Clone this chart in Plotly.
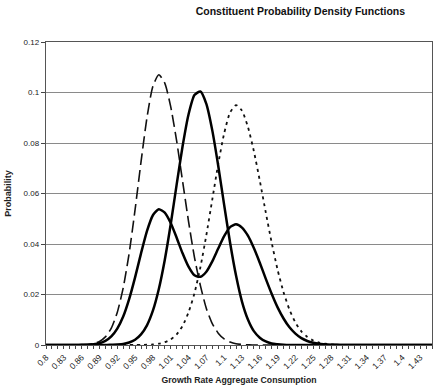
import plotly.graph_objects as go

# Category values on the x axis (growth rate), 0.80 .. 1.45 step 0.01
growth = [round(0.80 + 0.01 * i, 2) for i in range(66)]

# Labels shown every third category
x_labels = ["0.8", "0.83", "0.86", "0.89", "0.92", "0.95", "0.98", "1.01", "1.04", "1.07",
            "1.1", "1.13", "1.16", "1.19", "1.22", "1.25", "1.28", "1.31", "1.34", "1.37",
            "1.4", "1.43"]

# Long-dash density (peak near 0.99)
dashed = [0, 0, 0, 0, 0, 0, 0.0001, 0.0002, 0.0006, 0.0014,
          0.0032, 0.0067, 0.0129, 0.0226, 0.0363, 0.0536, 0.0725, 0.0900, 0.1025, 0.1070,
          0.1037, 0.0944, 0.0808, 0.0649, 0.0490, 0.0347, 0.0235, 0.0145, 0.0085, 0.0047,
          0.0024, 0.0012, 0.0005, 0.0002, 0.0001, 0, 0, 0, 0, 0,
          0, 0, 0, 0, 0, 0, 0, 0, 0, 0,
          0, 0, 0, 0, 0, 0, 0, 0, 0, 0,
          0, 0, 0, 0, 0, 0]

# Dotted density (peak near 1.12)
dotted = [0, 0, 0, 0, 0, 0, 0, 0, 0, 0,
          0, 0, 0, 0, 0, 0, 0, 0.0001, 0.0002, 0.0005,
          0.0011, 0.0022, 0.0042, 0.0076, 0.0129, 0.0205, 0.0308, 0.0435, 0.0576, 0.0717,
          0.0838, 0.0921, 0.0950, 0.0928, 0.0864, 0.0768, 0.0651, 0.0526, 0.0406, 0.0298,
          0.0209, 0.0140, 0.0089, 0.0054, 0.0032, 0.0018, 0.0009, 0.0005, 0.0002, 0.0001,
          0, 0, 0, 0, 0, 0, 0, 0, 0, 0,
          0, 0, 0, 0, 0, 0]

# Solid unimodal density (peak near 1.06)
unimodal = [0, 0, 0, 0, 0, 0, 0, 0, 0, 0,
            0, 0.0001, 0.0002, 0.0004, 0.0010, 0.0021, 0.0042, 0.0078, 0.0136, 0.0222,
            0.0337, 0.0478, 0.0635, 0.0787, 0.0913, 0.0990, 0.1004, 0.0955, 0.0850, 0.0710,
            0.0555, 0.0405, 0.0275, 0.0172, 0.0101, 0.0055, 0.0029, 0.0014, 0.0006, 0.0003,
            0.0001, 0, 0, 0, 0, 0, 0, 0, 0, 0,
            0, 0, 0, 0, 0, 0, 0, 0, 0, 0,
            0, 0, 0, 0, 0, 0]

# Solid bimodal density
bimodal = [0, 0, 0, 0, 0, 0, 0.0001, 0.0001, 0.0003, 0.0007,
           0.0016, 0.0034, 0.0065, 0.0113, 0.0182, 0.0268, 0.0363, 0.0451, 0.0514, 0.0538,
           0.0524, 0.0483, 0.0425, 0.0363, 0.0310, 0.0276, 0.0270, 0.0290, 0.0331, 0.0382,
           0.0431, 0.0467, 0.0478, 0.0465, 0.0433, 0.0384, 0.0326, 0.0263, 0.0203, 0.0149,
           0.0105, 0.0070, 0.0045, 0.0027, 0.0016, 0.0009, 0.0005, 0.0003, 0.0001, 0.0001,
           0, 0, 0, 0, 0, 0, 0, 0, 0, 0,
           0, 0, 0, 0, 0, 0]

y_ticks = [0, 0.02, 0.04, 0.06, 0.08, 0.1, 0.12]
y_labels = ["0", "0.02", "0.04", "0.06", "0.08", "0.1", "0.12"]

FONT = "Arial, Liberation Sans, sans-serif"

fig = go.Figure()
fig.add_trace(go.Scatter(x=growth, y=dashed, mode="lines",
                         line=dict(color="#111", width=1.6, dash="12px,5px", shape="spline", smoothing=0.6)))
fig.add_trace(go.Scatter(x=growth, y=dotted, mode="lines",
                         line=dict(color="#111", width=1.8, dash="3px,4px", shape="spline", smoothing=0.6)))
fig.add_trace(go.Scatter(x=growth, y=unimodal, mode="lines",
                         line=dict(color="#000", width=2.5, shape="spline", smoothing=0.6)))
fig.add_trace(go.Scatter(x=growth, y=bimodal, mode="lines",
                         line=dict(color="#000", width=2.5, shape="spline", smoothing=0.6)))

label_map = {round(float(lab), 2): lab for lab in x_labels}
tickvals = growth
ticktext = [label_map.get(g, "") for g in growth]

fig.update_layout(
    width=440, height=392,
    margin=dict(l=42, r=7, t=42, b=47),
    paper_bgcolor="white", plot_bgcolor="white",
    showlegend=False,
    hovermode=False,
    font=dict(family=FONT, size=8, color="#222"),
    title=dict(text="<b>Constituent Probability Density Functions</b>",
               x=290 / 440, xanchor="center", xref="paper",
               y=1 - 11 / 392, yanchor="middle",
               font=dict(family=FONT, size=10.5, color="#111")),
    xaxis=dict(range=[0.80, 1.45], tickmode="array", tickvals=tickvals, ticktext=ticktext,
               tickangle=-45, ticks="outside", ticklen=3, tickcolor="#444", tickwidth=1,
               showgrid=False, zeroline=False, showline=True, linecolor="#555", linewidth=1.2,
               mirror=True, tickfont=dict(size=8.5, color="#222"),
               title=dict(text="<b>Growth Rate Aggregate Consumption</b>", standoff=6,
                          font=dict(size=8.7, color="#222"))),
    yaxis=dict(range=[0, 0.12], tickmode="array", tickvals=y_ticks, ticktext=y_labels,
               ticks="outside", ticklen=4, tickcolor="#444",
               showgrid=True, gridcolor="#8a8a8a", gridwidth=1, zeroline=False,
               showline=True, linecolor="#555", linewidth=1.2, mirror=True,
               tickfont=dict(size=8, color="#222"),
               title=dict(text="<b>Probability</b>", standoff=10,
                          font=dict(size=9, color="#222"))),
)

fig.write_html("out.html", config={"displayModeBar": False, "staticPlot": True},
               post_script="document.body.style.margin='0';")
